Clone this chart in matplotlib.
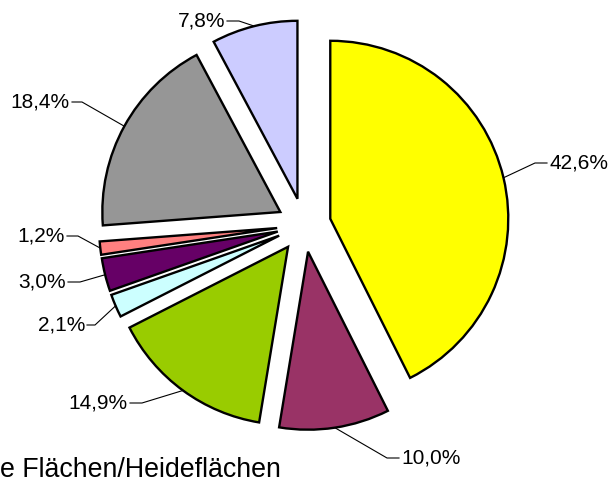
import numpy as np
import matplotlib.pyplot as plt

W, H = 611, 482

# slice values (percent), clockwise from 12 o'clock
values = [42.6, 10.0, 14.9, 2.1, 3.0, 1.2, 18.4, 7.8]
labels = ['42,6%', '10,0%', '14,9%', '2,1%', '3,0%', '1,2%', '18,4%', '7,8%']
colors = ['#FFFF00', '#993366', '#99CC00', '#CCFFFF', '#660066', '#FF8080', '#969696', '#CCCCFF']

# label layout in image pixels: elbow of the leader, end of the short horizontal bit, text side
elbows = [(535, 163), (387, 458), (142, 403), (95, 325), (80, 282), (78, 236), (82, 102), (239, 21)]
ends = [547, 399, 130, 87, 68, 67, 72, 227]
sides = ['left', 'left', 'right', 'right', 'right', 'right', 'right', 'right']

plt.rcParams['font.family'] = ['Liberation Sans', 'DejaVu Sans']

fig = plt.figure(figsize=(W / 100, H / 100), dpi=100)
ax = fig.add_axes([0, 0, 1, 1])

radius = 178
# explode offset is in data units here (radius is not 1)
wedges, _ = ax.pie(values, colors=colors, startangle=90, counterclock=False,
                   explode=[27] * len(values), radius=radius,
                   center=(304, H - 225),
                   wedgeprops=dict(edgecolor='black', linewidth=1.7))

for w, lab, (ex, ey), endx, side in zip(wedges, labels, elbows, ends, sides):
    t = np.deg2rad((w.theta1 + w.theta2) / 2)
    cx, cy = w.center
    px, py = cx + w.r * np.cos(t), cy + w.r * np.sin(t)
    ax.plot([px, ex, endx], [py, H - ey, H - ey], color='black', lw=0.8, zorder=3)
    tx = endx + 2 if side == 'left' else endx - 2
    ax.text(tx, H - ey, lab, ha=side, va='center', fontsize=15, color='black')

# cut-off legend entry at the bottom
ax.text(0, 5, 'e Flächen/Heideflächen', ha='left', va='baseline', fontsize=19.3, color='black')

ax.set_xlim(0, W)
ax.set_ylim(0, H)
ax.axis('off')

fig.savefig('out.png', dpi=100)
